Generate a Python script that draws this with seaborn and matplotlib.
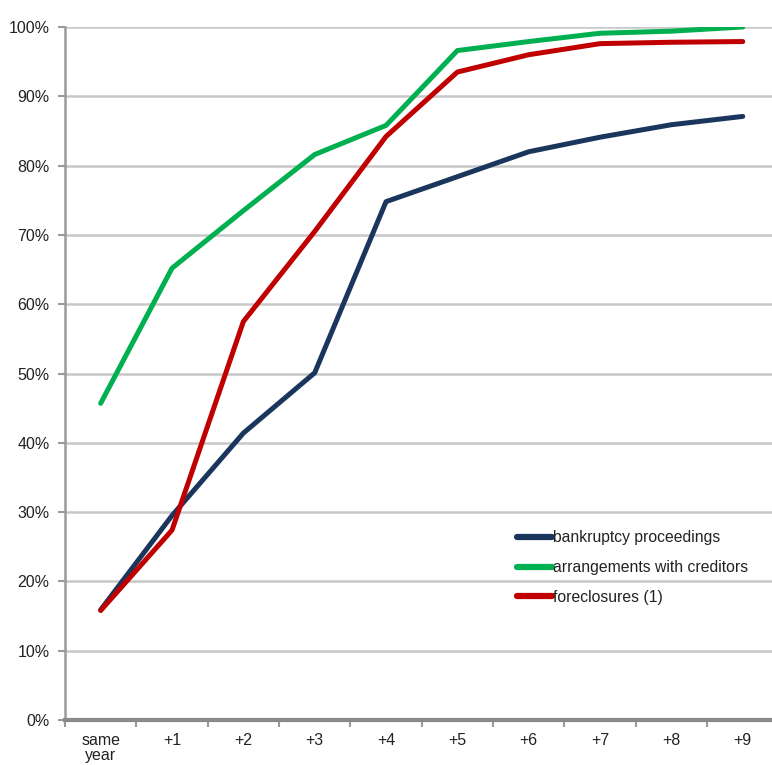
import matplotlib
matplotlib.use("Agg")
import matplotlib.pyplot as plt
from matplotlib.ticker import FixedLocator, PercentFormatter
import seaborn as sns
import pandas as pd

# Share of procedures closed, by years elapsed since opening
periods = ["same\nyear", "+1", "+2", "+3", "+4", "+5", "+6", "+7", "+8", "+9"]
bankruptcy = [15.9, 29.5, 41.4, 50.1, 74.8, 78.4, 82.0, 84.1, 85.9, 87.1]
arrangements = [45.7, 65.2, 73.5, 81.6, 85.8, 96.6, 97.9, 99.1, 99.4, 100.0]
foreclosures = [15.8, 27.4, 57.5, 70.5, 84.2, 93.5, 96.0, 97.6, 97.8, 97.9]

series_names = ["bankruptcy proceedings", "arrangements with creditors", "foreclosures (1)"]
series_colors = ["#1B365D", "#00B050", "#C00000"]

df = pd.concat(
    [
        pd.DataFrame({"period": periods, "share": vals, "procedure": name})
        for name, vals in zip(series_names, [bankruptcy, arrangements, foreclosures])
    ],
    ignore_index=True,
)

sns.set_theme(style="white")
plt.rcParams["font.family"] = ["Liberation Sans", "DejaVu Sans"]

fig = plt.figure(figsize=(7.72, 7.65), dpi=100)
ax = fig.add_axes([0.0842, 0.0588, 0.9158, 0.9059])

sns.lineplot(
    data=df, x="period", y="share", hue="procedure",
    palette=dict(zip(series_names, series_colors)),
    hue_order=series_names, sort=False, linewidth=3.6, ax=ax,
    solid_capstyle="round",
)

ax.set_ylim(0, 100)
ax.set_xlim(-0.5, 9.41)
ax.set_yticks(range(0, 101, 10))
ax.yaxis.set_major_formatter(PercentFormatter(decimals=0))
ax.grid(axis="y", color="#C8C8C8", linewidth=1.8)
ax.set_axisbelow(True)
ax.set_xlabel("")
ax.set_ylabel("")

ax.xaxis.set_minor_locator(FixedLocator([i + 0.5 for i in range(-1, 10)]))
ax.tick_params(axis="x", which="major", length=0, pad=9, labelsize=11.5, labelcolor="#222222")
ax.tick_params(axis="x", which="minor", length=5, width=1.5, color="#999999", direction="out")
ax.tick_params(axis="y", which="major", length=5, width=1.5, color="#999999",
               direction="out", pad=6, labelsize=11.5, labelcolor="#222222")
ax.tick_params(axis="x", bottom=True, which="minor")
ax.tick_params(axis="y", left=True)
for lbl in ax.get_xticklabels():
    lbl.set_linespacing(1.05)
    lbl.set_verticalalignment("top")

for side in ["top", "right"]:
    ax.spines[side].set_visible(False)
ax.spines["left"].set_color("#9A9A9A")
ax.spines["left"].set_linewidth(1.8)
ax.spines["bottom"].set_color("#8A8A8A")
ax.spines["bottom"].set_linewidth(3)

leg = ax.legend(
    loc="upper left", bbox_to_anchor=(0.639, 0.274), frameon=False,
    borderpad=0, borderaxespad=0, handlelength=2.25, handletextpad=0.05,
    labelspacing=0.95, fontsize=11.3,
)
for h in leg.get_lines():
    h.set_linewidth(4.5)
    h.set_solid_capstyle("round")
for t in leg.get_texts():
    t.set_color("#222222")

fig.savefig("out.png", dpi=100)
